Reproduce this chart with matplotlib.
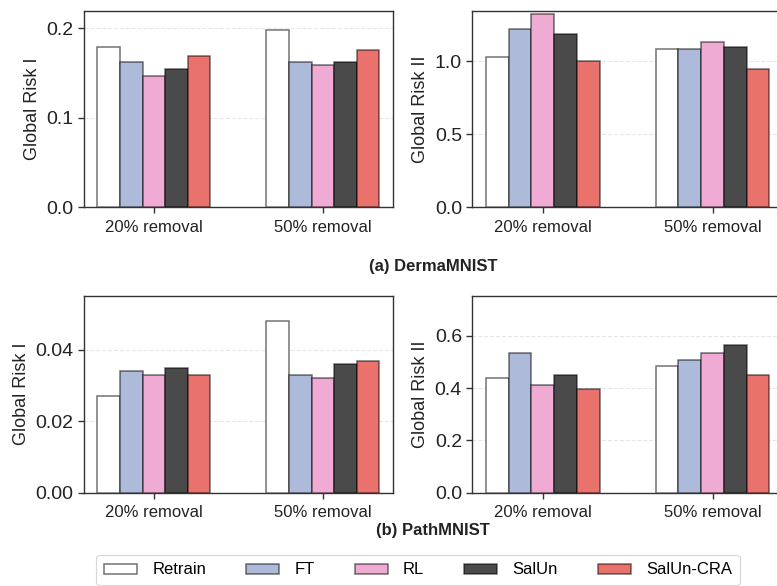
import matplotlib
matplotlib.use("Agg")
import matplotlib.pyplot as plt
import numpy as np

# --- dados ---
grupos = ["20% removal", "50% removal"]
metodos = ["Retrain", "FT", "RL", "SalUn", "SalUn-CRA"]
cores = ["#ffffff", "#aebad9", "#efabd4", "#4a4a4a", "#ea726d"]

# DermaMNIST
derma_risk1_20 = [0.179, 0.162, 0.147, 0.155, 0.169]
derma_risk1_50 = [0.198, 0.162, 0.159, 0.162, 0.176]
derma_risk2_20 = [1.027, 1.219, 1.326, 1.189, 1.000]
derma_risk2_50 = [1.084, 1.084, 1.130, 1.100, 0.949]

# PathMNIST
path_risk1_20 = [0.027, 0.034, 0.033, 0.035, 0.033]
path_risk1_50 = [0.048, 0.033, 0.032, 0.036, 0.037]
path_risk2_20 = [0.437, 0.535, 0.410, 0.451, 0.396]
path_risk2_50 = [0.485, 0.507, 0.535, 0.563, 0.451]

plt.rcParams["font.family"] = ["Liberation Sans", "DejaVu Sans"]

fig = plt.figure(figsize=(7.77, 5.86), dpi=100)

W = 777.0
H = 586.0


def eixo(x0, x1, y0, y1):
    # posicao em pixels -> fracao da figura
    return fig.add_axes([x0 / W, 1 - y1 / H, (x1 - x0) / W, (y1 - y0) / H])


def barras(ax, v20, v50, ylabel, ylim, yticks, fmt):
    largura = 0.134
    x = np.arange(len(grupos))
    for i, m in enumerate(metodos):
        vals = [v20[i], v50[i]]
        ax.bar(x + (i - 2) * largura, vals, width=largura, color=cores[i],
               edgecolor=(0, 0, 0, 0.55), linewidth=1.1, label=m, zorder=3)
    ax.set_xticks(x)
    ax.set_xticklabels(grupos, fontsize=12)
    ax.set_xlim(-0.415, 1.415)
    ax.set_ylim(0, ylim)
    ax.set_yticks(yticks)
    ax.set_yticklabels([fmt.format(t) for t in yticks], fontsize=14)
    ax.set_ylabel(ylabel, fontsize=13, color="#222222")
    ax.yaxis.grid(True, linestyle="--", color="#dddddd", linewidth=0.8, alpha=0.7, zorder=0)
    for s in ax.spines.values():
        s.set_color("#333333")
        s.set_linewidth(1.0)
    ax.tick_params(axis="both", direction="out", length=4, width=1.0, color="#333333",
                   labelcolor="#222222")
    ax.tick_params(axis="x", pad=5)


ax1 = eixo(83.7, 393, 10.7, 207.3)
barras(ax1, derma_risk1_20, derma_risk1_50, "Global Risk I", 0.2197, [0.0, 0.1, 0.2], "{:.1f}")

ax2 = eixo(472.3, 783, 10.7, 207.3)
barras(ax2, derma_risk2_20, derma_risk2_50, "Global Risk II", 1.347, [0.0, 0.5, 1.0], "{:.1f}")

ax3 = eixo(83.7, 393, 295.7, 492.7)
barras(ax3, path_risk1_20, path_risk1_50, "Global Risk I", 0.0552, [0.0, 0.02, 0.04], "{:.2f}")

ax4 = eixo(472.3, 783, 295.7, 492.7)
barras(ax4, path_risk2_20, path_risk2_50, "Global Risk II", 0.753, [0.0, 0.2, 0.4, 0.6], "{:.1f}")

# titulos das secoes
fig.text(433 / W, 1 - 267 / H, "(a) DermaMNIST", ha="center", va="center",
         fontsize=12, fontweight="bold", color="#222222")
fig.text(433 / W, 1 - 531 / H, "(b) PathMNIST", ha="center", va="center",
         fontsize=12, fontweight="bold", color="#222222")

# legenda comum
handles, labels = ax1.get_legend_handles_labels()
leg = fig.legend(handles, labels, loc="center", bbox_to_anchor=(418 / W, 1 - 570 / H),
                 ncol=5, fontsize=12, frameon=True, fancybox=True,
                 handlelength=2.0, handleheight=0.55, handletextpad=0.9,
                 columnspacing=2.4, borderpad=0.45)
leg.get_frame().set_edgecolor("#cccccc")
leg.get_frame().set_linewidth(0.8)

plt.savefig("out.png", dpi=100)
plt.close()
